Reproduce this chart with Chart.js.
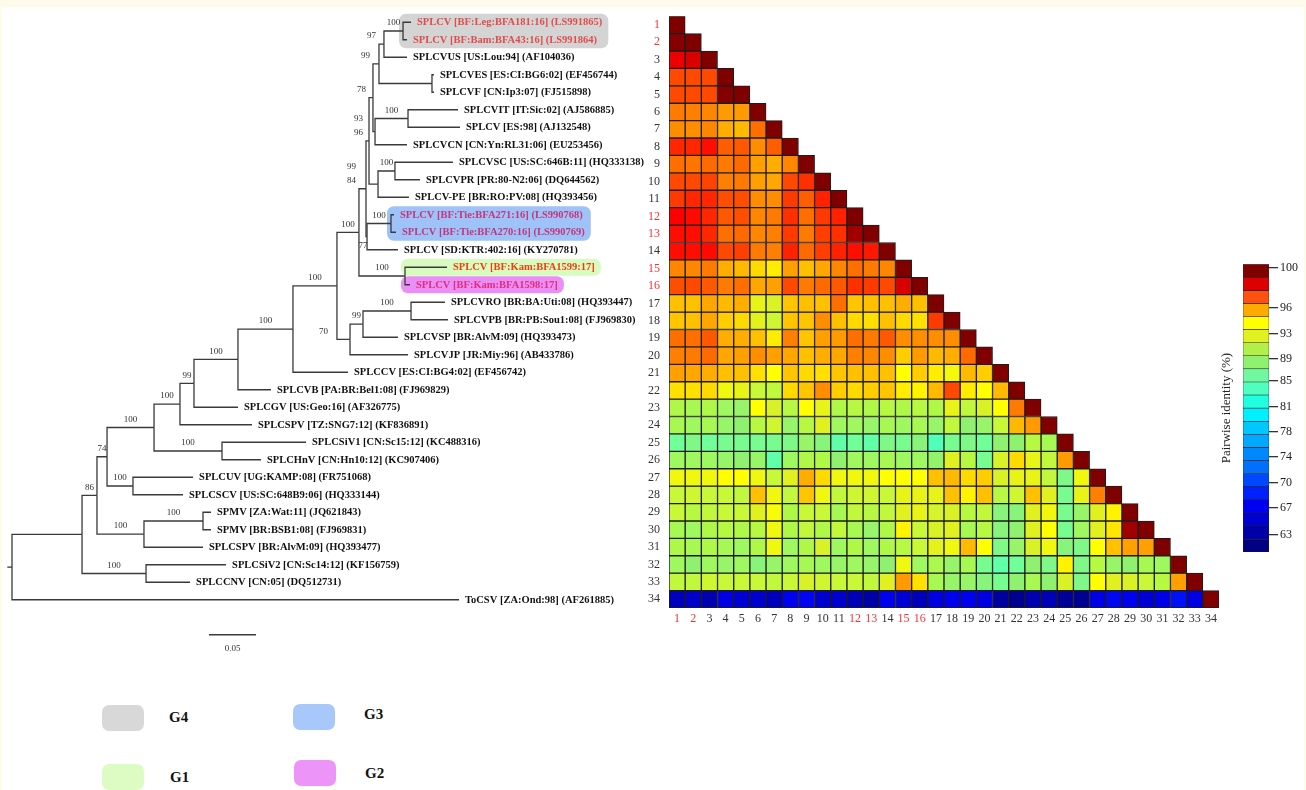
<!DOCTYPE html>
<html>
<head>
<meta charset="utf-8">
<script src="https://cdn.jsdelivr.net/npm/chart.js@4.4.1/dist/chart.umd.min.js"></script>
<style>
html, body { margin: 0; padding: 0; }
body { width: 1306px; height: 790px; background: #fffbea; position: relative; overflow: hidden; font-family: "Liberation Serif", "Times New Roman", serif; }
#sheet { position: absolute; left: 2px; top: 7px; width: 1302px; height: 783px; background: #fff; }
canvas { position: absolute; }
#tree { left: 0; top: 0; }
#heat { left: 630px; top: 0; }
#bar { left: 1215px; top: 255px; }
.sw { position: absolute; width: 42px; height: 26px; border-radius: 7px; }
.gl { position: absolute; font-weight: bold; font-size: 15px; line-height: 16px; color: #111; }
</style>
</head>
<body>
<div id="sheet"></div>
<canvas id="tree" width="660" height="700"></canvas>
<canvas id="heat" width="600" height="640"></canvas>
<canvas id="bar" width="91" height="310"></canvas>

<div class="sw" style="left:102px;top:705px;background:#d8d8d8"></div>
<div class="gl" style="left:169px;top:709px">G4</div>
<div class="sw" style="left:293px;top:704px;background:#a8c8fc"></div>
<div class="gl" style="left:364px;top:706px">G3</div>
<div class="sw" style="left:102px;top:764px;background:#dcfcc4"></div>
<div class="gl" style="left:170px;top:769px">G1</div>
<div class="sw" style="left:294px;top:760px;background:#ec94f8"></div>
<div class="gl" style="left:365px;top:765px">G2</div>

<script>
// ---- tree data ----
const leafNames = [
    'SPLCV [BF:Leg:BFA181:16] (LS991865)', 'SPLCV [BF:Bam:BFA43:16] (LS991864)',
    'SPLCVUS [US:Lou:94] (AF104036)', 'SPLCVES [ES:CI:BG6:02] (EF456744)',
    'SPLCVF [CN:Ip3:07] (FJ515898)', 'SPLCVIT [IT:Sic:02] (AJ586885)',
    'SPLCV [ES:98] (AJ132548)', 'SPLCVCN [CN:Yn:RL31:06] (EU253456)',
    'SPLCVSC [US:SC:646B:11] (HQ333138)', 'SPLCVPR [PR:80-N2:06] (DQ644562)',
    'SPLCV-PE [BR:RO:PV:08] (HQ393456)', 'SPLCV [BF:Tie:BFA271:16] (LS990768)',
    'SPLCV [BF:Tie:BFA270:16] (LS990769)', 'SPLCV [SD:KTR:402:16] (KY270781)',
    'SPLCV [BF:Kam:BFA1599:17]', 'SPLCV [BF:Kam:BFA1598:17]',
    'SPLCVRO [BR:BA:Uti:08] (HQ393447)', 'SPLCVPB [BR:PB:Sou1:08] (FJ969830)',
    'SPLCVSP [BR:AlvM:09] (HQ393473)', 'SPLCVJP [JR:Miy:96] (AB433786)',
    'SPLCCV [ES:CI:BG4:02] (EF456742)', 'SPLCVB [PA:BR:Bel1:08] (FJ969829)',
    'SPLCGV [US:Geo:16] (AF326775)', 'SPLCSPV [TZ:SNG7:12] (KF836891)',
    'SPLCSiV1 [CN:Sc15:12] (KC488316)', 'SPLCHnV [CN:Hn10:12] (KC907406)',
    'SPLCUV [UG:KAMP:08] (FR751068)', 'SPLCSCV [US:SC:648B9:06] (HQ333144)',
    'SPMV [ZA:Wat:11] (JQ621843)', 'SPMV [BR:BSB1:08] (FJ969831)',
    'SPLCSPV [BR:AlvM:09] (HQ393477)', 'SPLCSiV2 [CN:Sc14:12] (KF156759)',
    'SPLCCNV [CN:05] (DQ512731)', 'ToCSV [ZA:Ond:98] (AF261885)'
];
// distance from root to each tip (substitutions/site)
const leafTips = [
    0.4245, 0.4202, 0.4202, 0.4489, 0.4489, 0.4745, 0.4766, 0.4202, 0.4691, 0.4340,
    0.4223, 0.4064, 0.4085, 0.4106, 0.4628, 0.4234, 0.4606, 0.4638, 0.4106, 0.4213,
    0.3574, 0.2755, 0.2404, 0.2553, 0.3128, 0.2649, 0.1926, 0.1819, 0.2117, 0.2117,
    0.2032, 0.2277, 0.1894, 0.4755
];
const nodeIds = ['R', 'A', 'B', 'C', 'D', 'E', 'F', 'G', 'H', 'I', 'J', 'K', 'L', 'M', 'N', 'O', 'P', 'Q', 'S',
    'T', 'U', 'V', 'W', 'X', 'Y', 'Y1', 'Y2', 'Y3', 'Y4', 'Y5', 'Y6', 'Z', 'Z1'];
const nodeDepths = [0, 0.0745, 0.0904, 0.1426, 0.1011, 0.1404, 0.2032, 0.1511, 0.1287, 0.1787, 0.2234,
    0.1936, 0.2404, 0.2989, 0.3457, 0.3691, 0.3596, 0.3734, 0.4245, 0.3766, 0.4181, 0.3798, 0.3777,
    0.4032, 0.3840, 0.3904, 0.3862, 0.4213, 0.3957, 0.4468, 0.4160, 0.3894, 0.4074];
const nodeKids = [['A', 34], ['B', 'C'], ['D', 'E'], [32, 33], ['G', 'H'], ['F', 31], [29, 30], ['I', 'J'],
    [27, 28], ['K', 24], [25, 26], ['L', 23], ['M', 22], ['N', 21], ['O', 'P'], ['T', 'U'], ['Q', 20],
    ['S', 19], [17, 18], ['V', 'W'], [15, 16], ['Y', 'Z'], ['X', 14], [12, 13], ['Y1', 'Y2'],
    ['Y4', 'Y5'], ['Y3', 8], [6, 7], ['Y6', 3], [4, 5], [1, 2], ['Z1', 11], [9, 10]];
const nodeSupport = ['', '', '86', '100', '74', '100', '100', '100', '100', '100', '100', '99', '100',
    '100', '100', '100', '70', '99', '100', '99\n84', '100', '93\n96', '77', '100', '78', '99', '', '100',
    '97', '', '100', '', '100'];
const groupLeaves = [[1, 2], [12, 13], [15], [16]];
const scaleBarLength = 0.05;

// ---- identity matrix (lower triangle, row i has i values) ----
const identity = [
    [100],
    [99.9, 100],
    [97.8, 98.1, 100],
    [96.0, 96.0, 96.0, 100],
    [96.0, 96.0, 96.0, 99.9, 100],
    [95.1, 95.0, 94.9, 94.6, 94.6, 100],
    [94.8, 94.8, 94.9, 94.3, 94.1, 95.3, 100],
    [96.7, 96.7, 97.2, 95.6, 95.7, 94.8, 95.6, 100],
    [95.3, 95.2, 95.4, 95.1, 95.4, 94.5, 94.3, 94.9, 100],
    [96.0, 96.0, 96.1, 95.0, 95.1, 94.5, 94.4, 96.0, 96.5, 100],
    [96.3, 96.7, 96.7, 95.9, 95.9, 94.8, 94.8, 96.3, 95.6, 96.8, 100],
    [97.5, 97.3, 96.7, 95.7, 95.9, 94.9, 95.1, 96.5, 95.3, 96.3, 96.8, 100],
    [97.2, 97.2, 96.7, 95.3, 95.4, 94.9, 95.0, 96.3, 95.1, 96.2, 96.5, 99.3, 100],
    [97.2, 97.2, 97.3, 96.0, 96.2, 95.1, 95.0, 96.8, 95.4, 96.2, 96.8, 97.2, 97.0, 100],
    [94.9, 94.9, 95.1, 94.3, 94.1, 93.6, 93.3, 94.5, 94.0, 94.4, 94.9, 95.3, 95.1, 94.9, 100],
    [95.9, 96.0, 95.7, 95.1, 95.3, 94.4, 94.5, 96.0, 95.1, 95.4, 95.7, 96.5, 96.3, 96.0, 98.1, 100],
    [94.0, 94.0, 94.4, 94.1, 94.3, 91.5, 90.8, 93.9, 94.0, 94.0, 95.3, 93.9, 94.0, 94.0, 94.3, 94.0, 100],
    [93.9, 94.0, 94.4, 93.8, 93.6, 91.2, 90.2, 93.9, 93.9, 94.8, 94.0, 93.6, 93.5, 94.0, 93.6, 93.5, 96.3, 100],
    [95.3, 95.3, 95.7, 94.3, 94.3, 94.0, 93.3, 95.0, 93.9, 94.5, 94.6, 95.3, 95.1, 95.7, 94.8, 94.8, 94.8, 94.8, 100],
    [95.0, 95.1, 95.4, 94.4, 94.5, 94.8, 94.5, 94.4, 94.0, 94.3, 94.4, 95.0, 94.9, 94.8, 93.8, 94.6, 94.1, 94.3, 95.4, 100],
    [94.5, 94.4, 94.3, 94.0, 94.0, 93.5, 93.0, 93.9, 93.6, 93.5, 93.9, 94.0, 94.0, 94.0, 93.0, 93.8, 93.3, 92.2, 94.1, 93.8, 100],
    [93.5, 93.5, 93.6, 92.0, 91.5, 90.0, 89.7, 93.6, 93.9, 94.8, 93.8, 93.6, 93.8, 93.9, 93.3, 93.2, 94.1, 96.0, 93.3, 93.0, 94.1, 100],
    [89.0, 88.5, 89.0, 88.0, 87.5, 93.0, 90.7, 89.3, 93.0, 91.5, 89.0, 89.3, 89.0, 89.3, 89.0, 89.3, 89.0, 91.5, 89.7, 90.7, 93.0, 95.1, 100],
    [88.5, 88.0, 88.5, 87.5, 87.0, 89.3, 90.3, 87.5, 89.3, 91.0, 88.0, 88.0, 87.5, 88.5, 88.0, 88.5, 87.5, 89.7, 87.0, 87.5, 90.0, 94.1, 94.6, 100],
    [85.0, 86.0, 85.0, 85.5, 85.5, 85.5, 85.5, 86.0, 87.5, 86.5, 84.0, 85.0, 84.0, 86.0, 85.5, 86.5, 83.0, 85.5, 86.0, 85.0, 87.0, 87.0, 89.3, 88.5, 100],
    [88.0, 88.0, 88.0, 87.5, 87.0, 87.5, 84.0, 88.0, 89.0, 89.0, 87.0, 88.0, 88.0, 88.5, 88.0, 88.0, 87.3, 91.0, 89.3, 85.5, 90.7, 93.6, 91.5, 89.7, 94.6, 100],
    [92.0, 92.0, 92.0, 93.0, 93.0, 92.0, 90.0, 91.0, 94.3, 93.6, 92.0, 92.0, 92.0, 93.0, 93.0, 93.0, 94.0, 94.1, 93.6, 93.8, 90.7, 91.5, 91.5, 89.7, 86.0, 92.0, 100],
    [90.0, 90.3, 90.0, 90.0, 89.7, 94.0, 92.0, 89.7, 93.9, 92.0, 89.7, 90.3, 90.3, 90.0, 91.5, 91.5, 91.5, 94.0, 93.2, 94.0, 89.3, 90.3, 94.0, 91.0, 85.5, 91.5, 95.0, 100],
    [90.0, 89.3, 89.7, 90.0, 90.0, 91.0, 92.5, 89.0, 90.0, 90.0, 88.5, 89.7, 89.3, 89.7, 91.0, 91.5, 90.5, 90.7, 89.3, 89.7, 86.5, 86.5, 91.0, 92.0, 85.5, 87.5, 91.0, 93.2, 100],
    [88.5, 88.0, 89.0, 89.3, 89.0, 89.3, 92.0, 89.0, 89.7, 89.0, 89.7, 88.5, 87.5, 89.0, 93.2, 90.0, 90.7, 91.0, 88.5, 89.3, 86.5, 87.0, 91.0, 93.0, 85.5, 88.0, 91.0, 93.4, 99.3, 100],
    [89.0, 88.5, 89.0, 88.5, 88.0, 89.0, 92.0, 88.0, 89.0, 90.7, 88.0, 89.0, 88.0, 89.0, 89.3, 90.0, 91.3, 92.0, 94.1, 93.0, 86.0, 87.5, 90.7, 92.0, 86.5, 86.0, 93.0, 94.0, 94.5, 94.5, 100],
    [88.0, 87.0, 88.0, 87.5, 88.0, 86.5, 87.5, 88.0, 88.5, 88.0, 87.5, 88.0, 87.5, 87.0, 92.0, 88.0, 88.7, 87.5, 88.5, 85.5, 84.0, 85.0, 87.0, 86.0, 93.2, 86.0, 89.3, 87.5, 87.0, 88.5, 88.0, 100],
    [89.7, 89.7, 90.3, 90.0, 90.0, 90.0, 89.7, 90.0, 90.7, 90.3, 90.0, 90.0, 89.7, 91.0, 94.6, 93.5, 88.5, 87.5, 87.5, 86.5, 85.5, 87.0, 88.5, 87.0, 90.7, 86.0, 93.0, 91.0, 90.7, 90.0, 89.3, 94.5, 100],
    [63.4, 64.0, 62.8, 65.4, 64.7, 64.3, 63.4, 66.1, 66.4, 64.3, 64.3, 63.1, 62.4, 66.1, 64.7, 63.4, 65.4, 66.1, 66.1, 65.4, 62.0, 61.0, 62.8, 63.1, 61.5, 61.0, 65.6, 66.5, 66.1, 64.7, 65.6, 67.0, 65.4, 100]
];
const rowLabels = identity.map((r, i) => String(i + 1));
const colLabels = identity.map((r, i) => String(i + 1));
const ourIsolates = ['1', '2', '12', '13', '15', '16'];

// ---- colour bar ----
const barColours = ['#800000', '#dc0000', '#ff5010', '#ffaa00', '#ffff00', '#e0f020', '#b0f048', '#90f070',
    '#70f8a0', '#50ffc0', '#20ffe0', '#00f0ff', '#00c8ff', '#00a8ff', '#0088ff', '#0070ff', '#0048ff',
    '#0020ff', '#0000f0', '#0000d0', '#0000a8', '#000080'];
const barTickPos = [0.3, 3.3, 5.3, 7.2, 8.9, 10.9, 12.8, 14.7, 16.7, 18.6, 20.7];
const barTickLabels = ['100', '96', '93', '89', '85', '81', '78', '74', '70', '67', '63'];

// value -> colour
const cmapValues = [60, 62, 64, 66, 68, 70, 72, 74, 76, 78, 80, 81.5, 83, 84, 85, 86, 87, 88, 89, 90, 91, 92, 93,
    93.5, 94, 94.5, 95, 96, 97.5, 98, 99, 100];
const cmapColours = ['#000080', '#0000a0', '#0000c8', '#0000ee', '#0020ff', '#0050ff', '#0070ff', '#0090ff',
    '#00aaff', '#00c8ff', '#00eeff', '#20ffd8', '#50ffb8', '#60ffa8', '#70ff98', '#80f888', '#90f070',
    '#a0f860', '#b0f848', '#c8f838', '#e0f020', '#f0f810', '#ffff00', '#ffe000', '#ffc000', '#ffa000',
    '#ff8000', '#ff4800', '#ff0000', '#e00000', '#b00000', '#800000'];

function hexRgb(h) { return [1, 3, 5].map(i => parseInt(h.substr(i, 2), 16)); }

function colourFor(v) {
    if (v >= cmapValues[cmapValues.length - 1]) return cmapColours[cmapColours.length - 1];
    if (v <= cmapValues[0]) return cmapColours[0];
    let k = 0;
    while (cmapValues[k + 1] < v) k++;
    let t = (v - cmapValues[k]) / (cmapValues[k + 1] - cmapValues[k]);
    let a = hexRgb(cmapColours[k]), b = hexRgb(cmapColours[k + 1]);
    let c = a.map((x, i) => Math.round(x + (b[i] - x) * t));
    return `rgb(${c[0]},${c[1]},${c[2]})`;
}

Chart.defaults.font.family = '"Liberation Serif", "Times New Roman", serif';
Chart.defaults.color = '#222';

// ---- build tree geometry ----
const depthOf = {}, yOf = {}, parentOf = {};
nodeIds.forEach((id, i) => { depthOf[id] = nodeDepths[i]; });
nodeKids.forEach((kids, i) => kids.forEach(c => { parentOf[c] = nodeIds[i]; }));

function childX(c) { return typeof c === 'number' ? leafTips[c - 1] : depthOf[c]; }
function childY(c) {
    if (typeof c === 'number') return c;
    if (yOf[c] == null) {
        let kids = nodeKids[nodeIds.indexOf(c)];
        yOf[c] = (childY(kids[0]) + childY(kids[1])) / 2;
    }
    return yOf[c];
}

let branches = [];
nodeIds.forEach((id, i) => {
    let x = depthOf[id], y = childY(id);
    nodeKids[i].forEach(c => {
        branches.push([{ x: x, y: y }, { x: x, y: childY(c) }, { x: childX(c), y: childY(c) }]);
    });
});
branches.push([{ x: -0.005, y: childY('R') }, { x: 0, y: childY('R') }]);
const barStart = 0.2096, barRow = 36;
branches.push([{ x: barStart, y: barRow }, { x: barStart + scaleBarLength, y: barRow }]);

const leafTint = { 1: '#e04c4c', 2: '#e04c4c', 12: '#c2367a', 13: '#c2367a', 15: '#f03c10', 16: '#e42c7c' };
const groupFill = ['#d4d4d4', '#9fc2f8', '#d8fcc0', '#e98ff5'];
const leafFont = 'bold 10.5px "Liberation Serif"';

const treeText = {
    id: 'treeText',
    beforeDatasetsDraw(chart) {
        const ctx = chart.ctx, xs = chart.scales.x, ys = chart.scales.y;
        ctx.save();
        ctx.font = leafFont;
        groupLeaves.forEach((g, gi) => {
            let left = xs.getPixelForValue(depthOf[parentOf[g[0]]]) - 4;
            let right = Math.max(...g.map(k => xs.getPixelForValue(leafTips[k - 1]) + 6 + ctx.measureText(leafNames[k - 1]).width)) + 6;
            let top = ys.getPixelForValue(g[0]) - 8.5;
            let bottom = ys.getPixelForValue(g[g.length - 1]) + 8.5;
            ctx.fillStyle = groupFill[gi];
            ctx.beginPath();
            ctx.roundRect(left, top, right - left, bottom - top, 7);
            ctx.fill();
        });
        ctx.restore();
    },
    afterDatasetsDraw(chart) {
        const ctx = chart.ctx, xs = chart.scales.x, ys = chart.scales.y;
        ctx.save();
        ctx.textBaseline = 'middle';
        ctx.font = leafFont;
        leafNames.forEach((name, i) => {
            ctx.fillStyle = leafTint[i + 1] || '#111';
            ctx.fillText(name, xs.getPixelForValue(leafTips[i]) + 6, ys.getPixelForValue(i + 1) + 0.5);
        });
        ctx.font = '9px "Liberation Serif"';
        ctx.fillStyle = '#333';
        ctx.textAlign = 'center';
        nodeIds.forEach((id, i) => {
            if (!nodeSupport[i]) return;
            let lines = nodeSupport[i].split('\n');
            let nx = xs.getPixelForValue(depthOf[id]);
            let px = xs.getPixelForValue(depthOf[parentOf[id]]);
            let ny = ys.getPixelForValue(childY(id));
            let w = Math.max(...lines.map(l => ctx.measureText(l).width));
            if (id === 'W') {
                // crowded node: label sits under the node
                ctx.fillText(lines[0], nx - 4, ny + 9);
                return;
            }
            let cx;
            if (id === 'P' || nx - px < 8) cx = px - 3 - w / 2; else cx = (nx + px) / 2;
            if (id === 'P') cx -= 6;
            lines.forEach((l, li) => {
                ctx.fillText(l, cx, ny - 8 - (lines.length - 1 - li) * 14);
            });
        });
        ctx.fillText(String(scaleBarLength), xs.getPixelForValue(barStart + scaleBarLength / 2), ys.getPixelForValue(barRow) + 14);
        ctx.restore();
    }
};

new Chart(document.getElementById('tree'), {
    type: 'scatter',
    data: {
        datasets: branches.map(b => ({
            data: b,
            showLine: true,
            borderColor: '#3a3a3a',
            borderWidth: 1.3,
            pointRadius: 0,
            borderJoinStyle: 'miter',
            borderCapStyle: 'butt'
        }))
    },
    options: {
        animation: false,
        responsive: false,
        layout: { padding: 0 },
        plugins: { legend: { display: false }, tooltip: { enabled: false } },
        scales: {
            x: { type: 'linear', display: false, min: -12 / 940, max: 648 / 940 },
            y: { type: 'linear', display: false, min: -4.75 / 17.5, max: 695.25 / 17.5, reverse: true }
        }
    },
    plugins: [treeText]
});

// ---- heat map ----
const tickColour = ctx => ourIsolates.includes(ctx.tick.label) ? '#ff3030' : '#333';

new Chart(document.getElementById('heat'), {
    type: 'bar',
    data: {
        labels: colLabels,
        datasets: identity.map((row, i) => ({
            data: colLabels.map((c, j) => j < row.length ? [i + 0.5, i + 1.5] : null),
            backgroundColor: colLabels.map((c, j) => j < row.length ? colourFor(row[j]) : 'rgba(0,0,0,0)'),
            borderColor: '#1c1c1c',
            borderWidth: 1,
            borderSkipped: false,
            grouped: false,
            barPercentage: 1,
            categoryPercentage: 1
        }))
    },
    options: {
        animation: false,
        responsive: false,
        layout: { padding: { top: 11, right: 11, left: 0, bottom: 0 } },
        plugins: { legend: { display: false }, tooltip: { enabled: false } },
        scales: {
            x: {
                grid: { display: false, drawTicks: false },
                border: { display: false },
                ticks: { autoSkip: false, maxRotation: 0, padding: 4, font: { size: 12 }, color: tickColour },
                afterFit: s => { s.height = 32; }
            },
            y: {
                type: 'linear', min: 0.5, max: 34.5, reverse: true,
                grid: { display: false, drawTicks: false },
                border: { display: false },
                afterBuildTicks: s => { s.ticks = rowLabels.map((r, i) => ({ value: i + 1 })); },
                ticks: { autoSkip: false, padding: 9, font: { size: 12 }, callback: (v, i) => rowLabels[i], color: tickColour },
                afterFit: s => { s.width = 39; }
            }
        }
    }
});

// ---- colour bar ----
new Chart(document.getElementById('bar'), {
    type: 'bar',
    data: {
        labels: [''],
        datasets: barColours.map((c, k) => ({
            data: [[k, k + 1]],
            backgroundColor: c,
            borderColor: '#202020',
            borderWidth: 0.6,
            borderSkipped: false,
            grouped: false,
            barPercentage: 1,
            categoryPercentage: 1,
            yAxisID: 'y'
        }))
    },
    options: {
        animation: false,
        responsive: false,
        layout: { padding: { top: 9, bottom: 13, left: 0, right: 0 } },
        plugins: { legend: { display: false }, tooltip: { enabled: false } },
        scales: {
            x: { display: false },
            y: {
                position: 'left', min: 0, max: 22, reverse: true,
                ticks: { display: false },
                grid: { display: false, drawTicks: false },
                border: { display: false },
                title: { display: true, text: 'Pairwise identity (%)', font: { size: 13 }, color: '#222', padding: { top: 4, bottom: 0 } },
                afterFit: s => { s.width = 28; }
            },
            y2: {
                position: 'right', min: 0, max: 22, reverse: true,
                afterBuildTicks: s => { s.ticks = barTickPos.map(v => ({ value: v })); },
                ticks: { autoSkip: false, padding: 2, font: { size: 12 }, color: '#222', callback: (v, i) => barTickLabels[i] },
                grid: { drawOnChartArea: false, drawTicks: true, tickLength: 9, color: '#333', lineWidth: 1.3 },
                border: { display: false },
                afterFit: s => { s.width = 37; }
            }
        }
    }
});
</script>
</body>
</html>
